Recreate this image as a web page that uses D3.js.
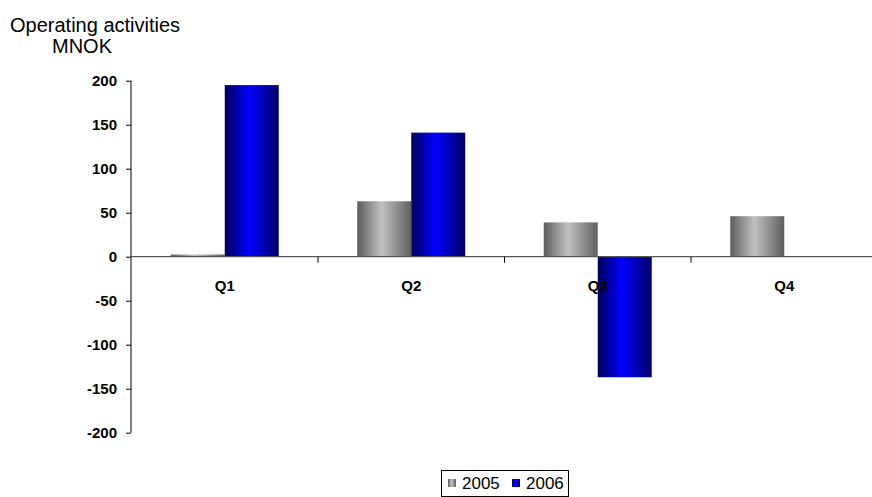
<!DOCTYPE html>
<html>
<head>
<meta charset="utf-8">
<script src="https://cdn.jsdelivr.net/npm/d3@7"></script>
<style>
  html, body { margin: 0; padding: 0; background: #fff; }
  svg { display: block; font-family: "Liberation Sans", Arial, sans-serif; }
</style>
</head>
<body>
<svg id="chart" width="872" height="497"></svg>
<script>
const categories = ["Q1", "Q2", "Q3", "Q4"];
const seriesNames = ["2005", "2006"];
const values2005 = [2.5, 63, 39, 46];
const values2006 = [195, 141, -137, null];
const yTicks = [200, 150, 100, 50, 0, -50, -100, -150, -200];
const titleLines = ["Operating activities", "MNOK"];

const svg = d3.select("#chart");
const defs = svg.append("defs");

function addGrad(id, stops) {
  const g = defs.append("linearGradient").attr("id", id)
    .attr("x1", "0%").attr("x2", "100%").attr("y1", "0%").attr("y2", "0%");
  stops.forEach(s => g.append("stop").attr("offset", s[0]).attr("stop-color", s[1]));
}
addGrad("g2005", [["0%", "#5c5c5c"], ["45%", "#c2c2c2"], ["100%", "#5e5e5e"]]);
addGrad("g2006", [["0%", "#00005a"], ["45%", "#0000ff"], ["100%", "#000064"]]);
const fills = { "2005": "url(#g2005)", "2006": "url(#g2006)" };

const y = d3.scaleLinear().domain([-200, 200]).range([432.7, 80.7]);
const x0 = d3.scaleBand().domain(categories).range([131.5, 877.5]).padding(0);
const x1 = d3.scaleBand().domain(seriesNames).range([0, x0.bandwidth()])
  .paddingInner(0).paddingOuter(0.727);

const data = categories.map((c, i) => ({
  cat: c,
  vals: [{ s: "2005", v: values2005[i] }, { s: "2006", v: values2006[i] }]
}));

// bars
const g = svg.append("g");
data.forEach(d => {
  d.vals.forEach(p => {
    if (p.v == null) return;
    g.append("rect")
      .attr("x", x0(d.cat) + x1(p.s))
      .attr("width", x1.bandwidth())
      .attr("y", y(Math.max(0, p.v)))
      .attr("height", Math.abs(y(p.v) - y(0)))
      .attr("fill", fills[p.s]);
  });
});

// y axis
const yAxis = d3.axisLeft(y).tickValues(yTicks).tickSize(5).tickPadding(9)
  .tickFormat(d => String(d));
const ya = svg.append("g").attr("transform", "translate(131,0)").call(yAxis);
ya.select(".domain").attr("stroke", "#000").attr("d", "M0," + y(200) + "V" + y(-200));
ya.selectAll(".tick line").attr("stroke", "#000");
ya.selectAll(".tick text").attr("font-size", "15px").attr("font-weight", "bold")
  .attr("fill", "#000").attr("font-family", "Liberation Sans, Arial, sans-serif");

// x axis (at zero)
const xa = svg.append("g");
xa.append("line").attr("x1", 131).attr("x2", 872).attr("y1", y(0)).attr("y2", y(0))
  .attr("stroke", "#555").attr("stroke-width", 1.3);
categories.slice(1).forEach(c => {
  xa.append("line").attr("x1", x0(c)).attr("x2", x0(c))
    .attr("y1", y(0)).attr("y2", y(0) + 6).attr("stroke", "#000");
});
xa.selectAll("text.cat").data(categories).enter().append("text")
  .attr("class", "cat")
  .attr("x", d => x0(d) + x0.bandwidth() / 2)
  .attr("y", 291)
  .attr("text-anchor", "middle")
  .attr("font-size", "15px").attr("font-weight", "bold")
  .text(d => d);

// title
svg.append("text").attr("x", 10).attr("y", 32).attr("font-size", "20px").text(titleLines[0]);
svg.append("text").attr("x", 52).attr("y", 53).attr("font-size", "20px").text(titleLines[1]);

// legend
const lg = svg.append("g");
lg.append("rect").attr("x", 441.5).attr("y", 470.5).attr("width", 127).attr("height", 26)
  .attr("fill", "#fff").attr("stroke", "#000").attr("stroke-width", 1);
const legX = [448, 512];
seriesNames.forEach((s, i) => {
  lg.append("rect").attr("x", legX[i]).attr("y", 479).attr("width", 8).attr("height", 8)
    .attr("fill", fills[s]);
  lg.append("text").attr("x", legX[i] + 14).attr("y", 489).attr("font-size", "17px").text(s);
});
</script>
</body>
</html>
